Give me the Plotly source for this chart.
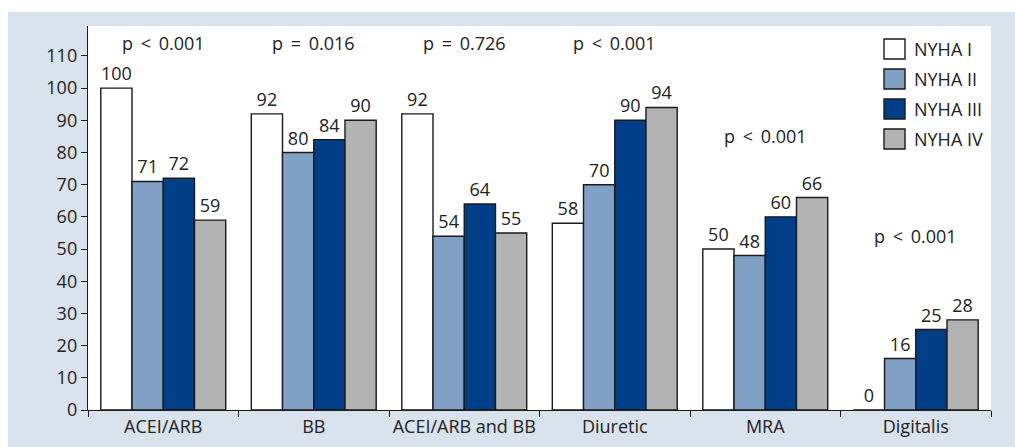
import plotly.graph_objects as go

categories = ["ACEI/ARB", "BB", "ACEI/ARB and BB", "Diuretic", "MRA", "Digitalis"]
series_names = ["NYHA I", "NYHA II", "NYHA III", "NYHA IV"]
nyha_1 = [100, 92, 92, 58, 50, 0]
nyha_2 = [71, 80, 54, 70, 48, 16]
nyha_3 = [72, 84, 64, 90, 60, 25]
nyha_4 = [59, 90, 55, 94, 66, 28]
series_values = [nyha_1, nyha_2, nyha_3, nyha_4]
colors = ["#ffffff", "#80a0c5", "#003f88", "#b3b3b3"]
p_values = ["p &lt; 0.001", "p = 0.016", "p = 0.726", "p &lt; 0.001", "p &lt; 0.001", "p &lt; 0.001"]
p_y = [114, 114, 114, 114, 85, 54]
y_ticks = list(range(0, 111, 10))

FONT = "Open Sans"
TXT = "#222222"
FS = 18
BG = "#d9e3ee"

W, H = 1015, 447
L, R, T, B = 88, 24, 26, 37
pw, ph = W - L - R, H - T - B

def px_x(x):
    return (x - L) / pw

def px_y(y):
    return (H - B - y) / ph

fig = go.Figure()
for name, vals, col in zip(series_names, series_values, colors):
    fig.add_trace(go.Bar(
        x=categories, y=vals, name=name,
        marker=dict(color=col, line=dict(color="#1a1a1a", width=1.4)),
        text=[str(v) for v in vals], textposition="outside",
        textfont=dict(family=FONT, size=FS, color=TXT),
        cliponaxis=False, showlegend=False, hoverinfo="skip",
    ))

annotations = []
for cat, p, yv in zip(categories, p_values, p_y):
    annotations.append(dict(x=cat, y=yv, text=p.replace(" ", "\u2009 ").replace("= ", "=\u2009 "), showarrow=False, xref="x", yref="y",
                            font=dict(family=FONT, size=FS, color=TXT)))

# white strips outside the light-blue panel (top and left)
shapes = [
    dict(type="rect", xref="paper", yref="paper", layer="below",
         x0=px_x(0), x1=px_x(W), y0=px_y(12), y1=px_y(0),
         fillcolor="#ffffff", line=dict(width=0)),
    dict(type="rect", xref="paper", yref="paper", layer="below",
         x0=px_x(0), x1=px_x(8), y0=px_y(H), y1=px_y(0),
         fillcolor="#ffffff", line=dict(width=0)),
]

# manual legend
for i, (name, col) in enumerate(zip(series_names, colors)):
    cy = 49 + 30 * i
    shapes.append(dict(type="rect", xref="paper", yref="paper",
                       x0=px_x(884), x1=px_x(905), y0=px_y(cy + 10), y1=px_y(cy - 10),
                       fillcolor=col, line=dict(color="#1a1a1a", width=1.4)))
    annotations.append(dict(x=px_x(912), y=px_y(cy), xref="paper", yref="paper",
                            text=name, showarrow=False, xanchor="left", yanchor="middle",
                            font=dict(family=FONT, size=FS, color=TXT)))

fig.update_layout(
    width=W, height=H,
    margin=dict(l=L, r=R, t=T, b=B, autoexpand=False),
    paper_bgcolor=BG, plot_bgcolor="#ffffff",
    barmode="group", bargap=0.17, bargroupgap=0,
    shapes=shapes, annotations=annotations,
    xaxis=dict(type="category", range=[-0.5, 5.5], tickson="boundaries",
               ticks="outside", ticklen=6, tickcolor="#1a1a1a", tickwidth=1.4,
               showline=True, linecolor="#1a1a1a", linewidth=1.4,
               showgrid=False, zeroline=False, automargin=False, tickangle=0,
               tickfont=dict(family=FONT, size=FS, color=TXT)),
    yaxis=dict(range=[0, 119.3], tickvals=y_ticks,
               ticks="outside", ticklen=6, tickcolor="#1a1a1a", tickwidth=1.4,
               showline=True, linecolor="#1a1a1a", linewidth=1.4,
               showgrid=False, zeroline=False, automargin=False,
               tickfont=dict(family=FONT, size=FS, color=TXT)),
)

fig.write_html("out.html", config={"displayModeBar": False},
               post_script="document.body.style.margin='0';document.body.style.overflow='hidden';")
